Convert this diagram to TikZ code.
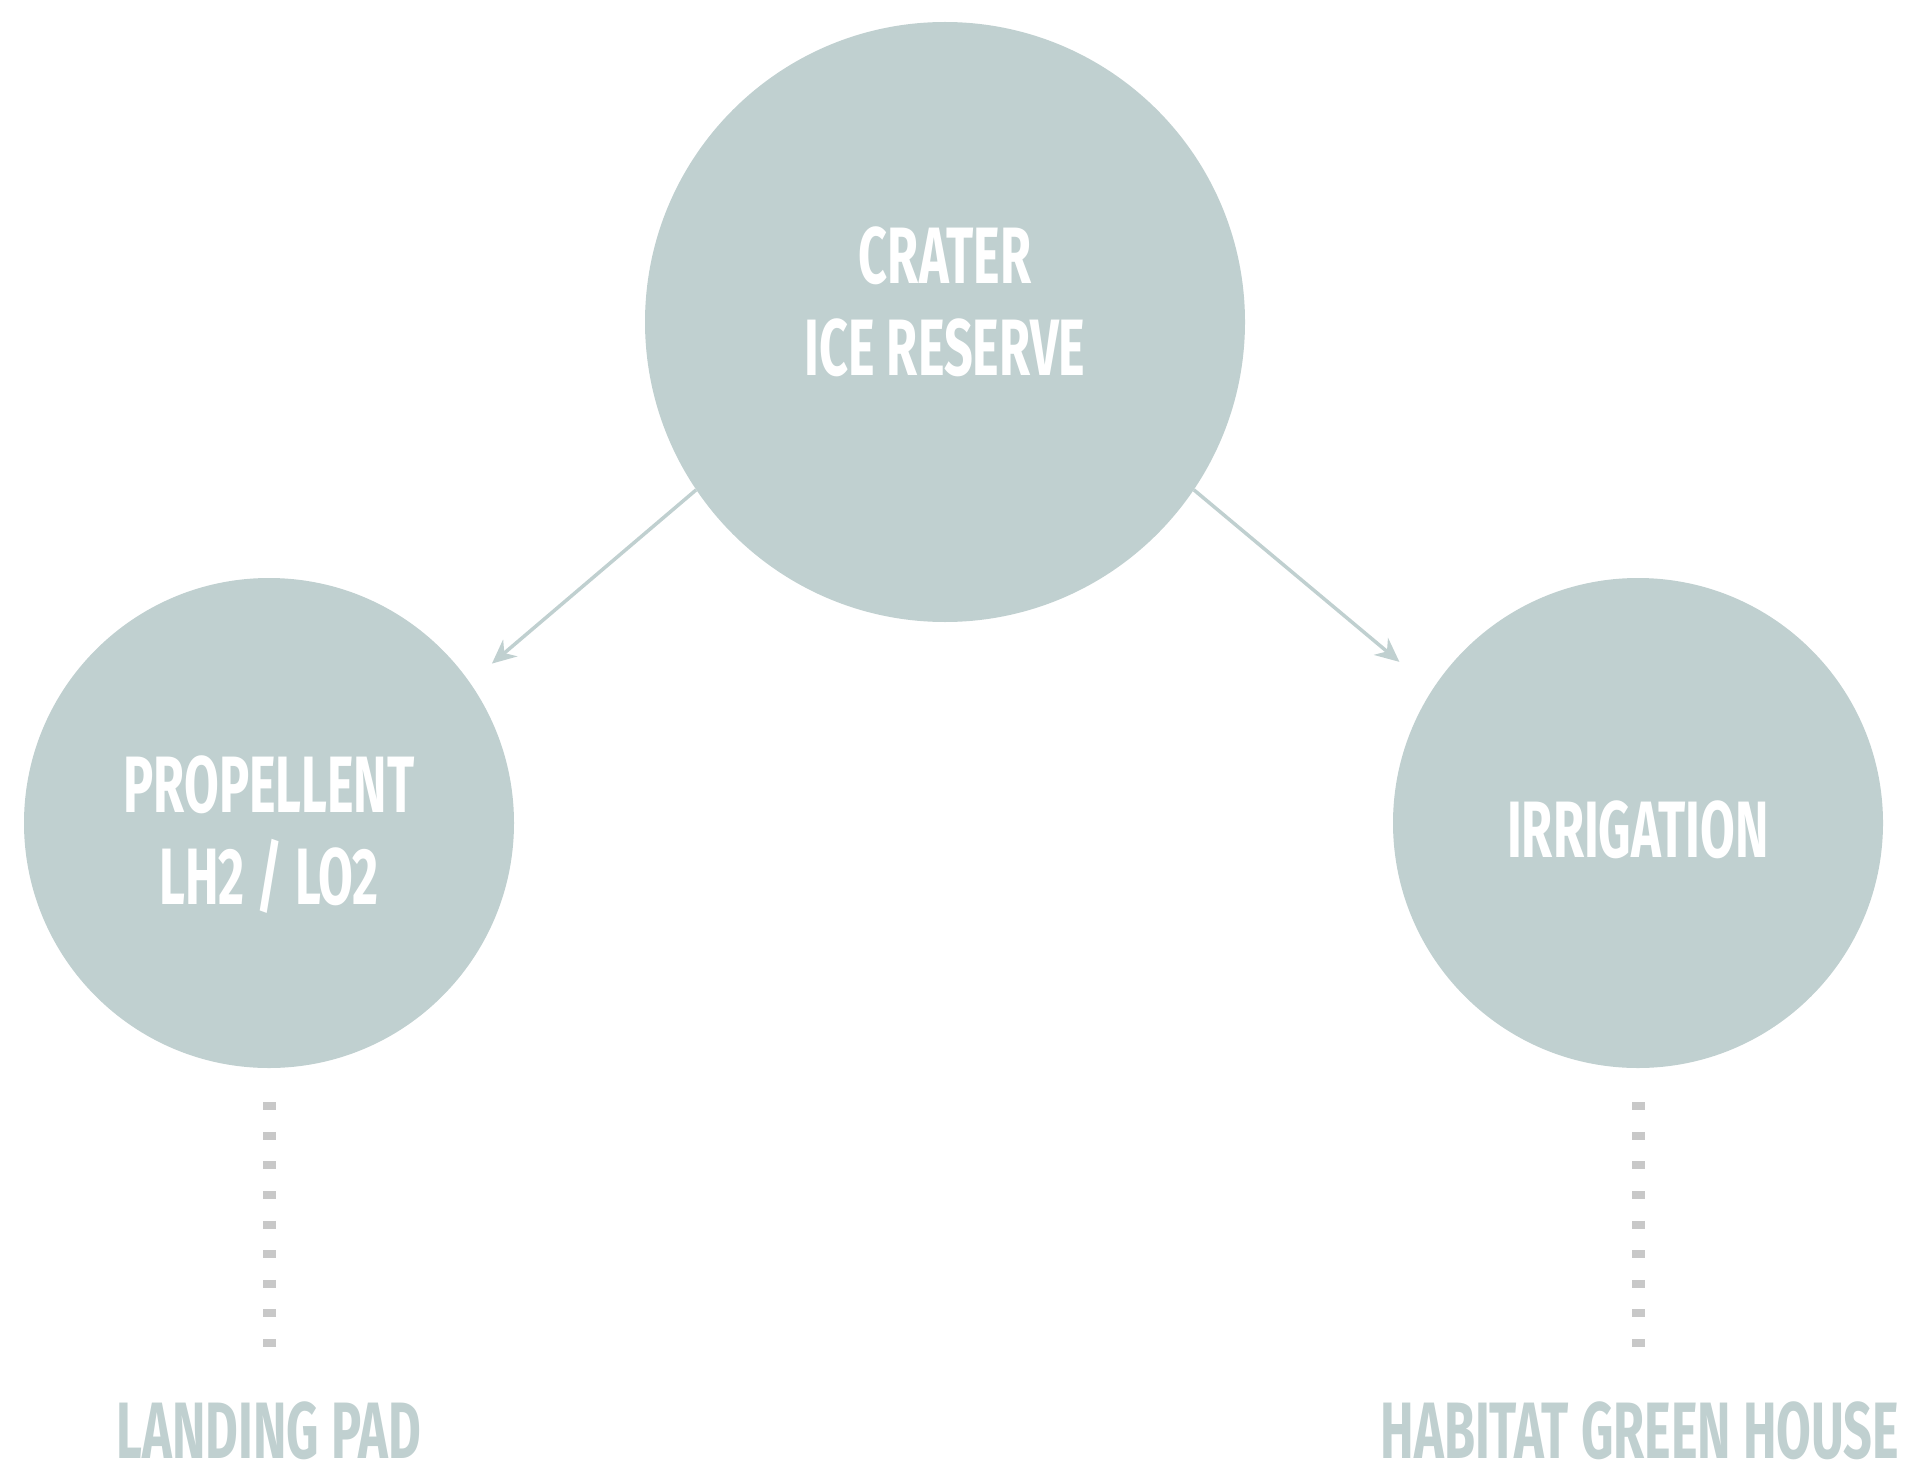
\documentclass[tikz,border=0pt]{standalone}
\usepackage{fontspec}
\newfontfamily\postfont{Fira Sans}
\usetikzlibrary{arrows.meta}

\definecolor{icegray}{RGB}{192,208,208}
\definecolor{dashgray}{RGB}{200,200,200}

% narrow poster lettering
\newcommand{\squeeze}[1]{\scalebox{0.63}[1]{#1}}

\tikzset{
  bubble/.style={circle, fill=icegray, inner sep=0pt},
  caption/.style={inner sep=0pt, align=center,
    font=\postfont\bfseries\fontsize{80}{92}\selectfont},
  inside/.style={caption, text=white},
  sitename/.style={caption, text=icegray},
  flow/.style={draw=icegray, line width=3.5pt, -{Stealth[length=24pt,width=22pt]}},
  feed/.style={draw=dashgray, line width=13pt, dash pattern=on 8pt off 21.6pt}
}

\begin{document}
\begin{tikzpicture}[x=1pt, y=-1pt]
  \useasboundingbox (0,0) rectangle (1927,1479);

  \node[bubble, minimum size=600pt] (ice) at (945,322) {};
  \node[bubble, minimum size=490pt] (fuel) at (269,823) {};
  \node[bubble, minimum size=490pt] (farm) at (1638,823) {};

  \node[inside] (icetext) at (945,302) {\squeeze{CRATER}\\\squeeze{ICE RESERVE}};
  \node[inside] (fueltext) at (269,835) {\squeeze{PROPELLENT}\\\squeeze{LH2 / LO2}};
  \node[inside] (farmtext) at (1638,830) {\squeeze{IRRIGATION}};

  \node[sitename] (pad) at (269,1431) {\squeeze{LANDING PAD}};
  \node[sitename] (house) at (1640,1431) {\squeeze{HABITAT GREEN HOUSE}};

  \draw[flow, shorten >=29pt] (ice.214) -- (fuel.35.5);
  \draw[flow, shorten >=43pt] (ice.326) -- (farm.147);

  \foreach \from/\to in {fuel/pad, farm/house}
    \draw[feed, shorten <=34pt, shorten >=55pt] (\from.south) -- (\from.south |- \to.north);
\end{tikzpicture}
\end{document}
